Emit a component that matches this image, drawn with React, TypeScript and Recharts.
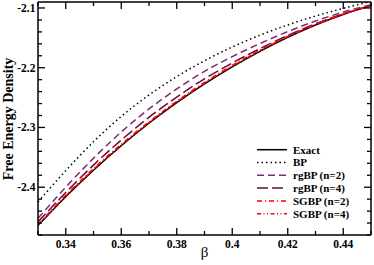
import React from "react";
import { LineChart, Line, XAxis, YAxis } from "recharts";

// beta grid
const betas = [0.33, 0.34, 0.35, 0.36, 0.37, 0.38, 0.39, 0.4, 0.41, 0.42, 0.43, 0.44, 0.45];

// free energy density
const exact = [-2.4642, -2.4159, -2.3715, -2.3306, -2.293, -2.2586, -2.2271, -2.1985, -2.1725, -2.149, -2.1284, -2.1108, -2.0964];
const bp = [-2.4246, -2.3723, -2.3238, -2.2816, -2.2456, -2.2148, -2.1883, -2.1653, -2.1455, -2.1284, -2.1135, -2.1006, -2.089];
const rgbp2 = [-2.4522, -2.3999, -2.3515, -2.3076, -2.269, -2.2356, -2.2061, -2.1815, -2.1595, -2.1395, -2.1219, -2.1068, -2.0944];
const rgbp4 = [-2.4582, -2.4089, -2.363, -2.3211, -2.283, -2.2491, -2.2186, -2.192, -2.168, -2.146, -2.1264, -2.1098, -2.0959];
const sgbp2 = [-2.4627, -2.4134, -2.369, -2.3281, -2.2905, -2.2561, -2.2246, -2.196, -2.1705, -2.1475, -2.1274, -2.1101, -2.0961];
const sgbp4 = [-2.4635, -2.4147, -2.3703, -2.3294, -2.2918, -2.2574, -2.2259, -2.1973, -2.1715, -2.1482, -2.1279, -2.1105, -2.0962];

const xTicks = [0.33, 0.34, 0.35, 0.36, 0.37, 0.38, 0.39, 0.4, 0.41, 0.42, 0.43, 0.44, 0.45];
const yTicks = [-2.48, -2.46, -2.44, -2.42, -2.4, -2.38, -2.36, -2.34, -2.32, -2.3, -2.28, -2.26, -2.24, -2.22, -2.2, -2.18, -2.16, -2.14, -2.12, -2.1];

const data = betas.map((b, i) => ({
  beta: b,
  exact: exact[i],
  bp: bp[i],
  rgbp2: rgbp2[i],
  rgbp4: rgbp4[i],
  sgbp2: sgbp2[i],
  sgbp4: sgbp4[i],
}));

const FONT = "'Liberation Serif', 'Times New Roman', serif";
const PURPLE2 = "#7f2a72";
const PURPLE4 = "#670748";
const RED = "#ff0000";

const bold = { fontFamily: FONT, fontWeight: 700 } as const;

const series = [
  { key: "exact", name: "Exact", color: "#000", dash: undefined },
  { key: "bp", name: "BP", color: "#000", dash: "1.5 3" },
  { key: "rgbp2", name: "rgBP (n=2)", color: PURPLE2, dash: "7 4" },
  { key: "rgbp4", name: "rgBP (n=4)", color: PURPLE4, dash: "11 4" },
  { key: "sgbp2", name: "SGBP (n=2)", color: RED, dash: "5 3 1 3" },
  { key: "sgbp4", name: "SGBP (n=4)", color: RED, dash: "4 2.5 1 2.5 1 2.5" },
];

const isMajorX = (v: number) => Math.round(v * 100) % 2 === 0;
const isMajorY = (v: number) => Math.round(v * 100) % 10 === 0;

const BottomTick = (props: any) => {
  const { x, y, payload } = props;
  const major = isMajorX(payload.value);
  return (
    <g>
      <line x1={x} y1={y} x2={x} y2={y - (major ? 7 : 4)} stroke="#000" strokeWidth={1.3} />
      {major && (
        <text x={x} y={y + 12.5} textAnchor="middle" style={{ ...bold, fontSize: 11.5 }} fill="#000">
          {String(Math.round(payload.value * 100) / 100)}
        </text>
      )}
    </g>
  );
};

const TopTick = (props: any) => {
  const { x, y, payload } = props;
  const major = isMajorX(payload.value);
  return <line x1={x} y1={y} x2={x} y2={y + (major ? 7 : 4)} stroke="#000" strokeWidth={1.3} />;
};

const LeftTick = (props: any) => {
  const { x, y, payload } = props;
  const major = isMajorY(payload.value);
  return (
    <g>
      <line x1={x} y1={y} x2={x + (major ? 7 : 4)} y2={y} stroke="#000" strokeWidth={1.3} />
      {major && (
        <text x={x - 2.5} y={y + 3.8} textAnchor="end" style={{ ...bold, fontSize: 11.5 }} fill="#000">
          {payload.value.toFixed(1)}
        </text>
      )}
    </g>
  );
};

const RightTick = (props: any) => {
  const { x, y, payload } = props;
  const major = isMajorY(payload.value);
  return <line x1={x} y1={y} x2={x - (major ? 7 : 4)} y2={y} stroke="#000" strokeWidth={1.3} />;
};

function LegendBox() {
  return (
    <svg width={120} height={80} style={{ position: "absolute", left: 255, top: 143 }}>
      {series.map((s, i) => {
        const cy = 6.7 + i * 12.8;
        return (
          <g key={s.key}>
            <line x1={2} x2={32} y1={cy} y2={cy} stroke={s.color} strokeWidth={1.5} strokeDasharray={s.dash} />
            <text x={38} y={cy + 3.8} style={{ ...bold, fontSize: 11 }} fill="#000">
              {s.name}
            </text>
          </g>
        );
      })}
    </svg>
  );
}

export default function App() {
  return (
    <div style={{ position: "absolute", left: 0, top: 0, width: 374, height: 265, background: "#fff" }}>
      <LineChart width={374} height={265} data={data} margin={{ top: 1, right: 0, bottom: 0, left: 0 }}>
        <XAxis
          xAxisId="b"
          dataKey="beta"
          type="number"
          domain={[0.33, 0.45]}
          ticks={xTicks}
          interval={0}
          allowDataOverflow
          height={30}
          tickSize={0}
          tickMargin={0}
          tickLine={false}
          axisLine={{ stroke: "#000", strokeWidth: 1.5 }}
          tick={BottomTick}
        />
        <XAxis
          xAxisId="t"
          orientation="top"
          dataKey="beta"
          type="number"
          domain={[0.33, 0.45]}
          ticks={xTicks}
          interval={0}
          allowDataOverflow
          height={1}
          tickSize={0}
          tickMargin={0}
          tickLine={false}
          axisLine={{ stroke: "#000", strokeWidth: 1.5 }}
          tick={TopTick}
        />
        <YAxis
          yAxisId="l"
          type="number"
          domain={[-2.48, -2.09]}
          ticks={yTicks}
          interval={0}
          allowDataOverflow
          width={38}
          tickSize={0}
          tickMargin={0}
          tickLine={false}
          axisLine={{ stroke: "#000", strokeWidth: 1.5 }}
          tick={LeftTick}
        />
        <YAxis
          yAxisId="r"
          orientation="right"
          type="number"
          domain={[-2.48, -2.09]}
          ticks={yTicks}
          interval={0}
          allowDataOverflow
          width={3}
          tickSize={0}
          tickMargin={0}
          tickLine={false}
          axisLine={{ stroke: "#000", strokeWidth: 1.5 }}
          tick={RightTick}
        />
        {series.map((s) => (
          <Line
            key={s.key}
            xAxisId="b"
            yAxisId="l"
            type="monotone"
            dataKey={s.key}
            stroke={s.color}
            strokeWidth={1.5}
            strokeDasharray={s.dash}
            dot={false}
            isAnimationActive={false}
          />
        ))}
      </LineChart>
      <svg width={374} height={265} style={{ position: "absolute", left: 0, top: 0, pointerEvents: "none" }}>
        <text
          x={13}
          y={119}
          transform="rotate(-90 13 119)"
          textAnchor="middle"
          style={{ ...bold, fontSize: 14 }}
          fill="#000"
        >
          Free Energy Density
        </text>
        <text x={204.5} y={257} textAnchor="middle" style={{ fontFamily: FONT, fontSize: 15 }} fill="#000">
          β
        </text>
      </svg>
      <LegendBox />
    </div>
  );
}
